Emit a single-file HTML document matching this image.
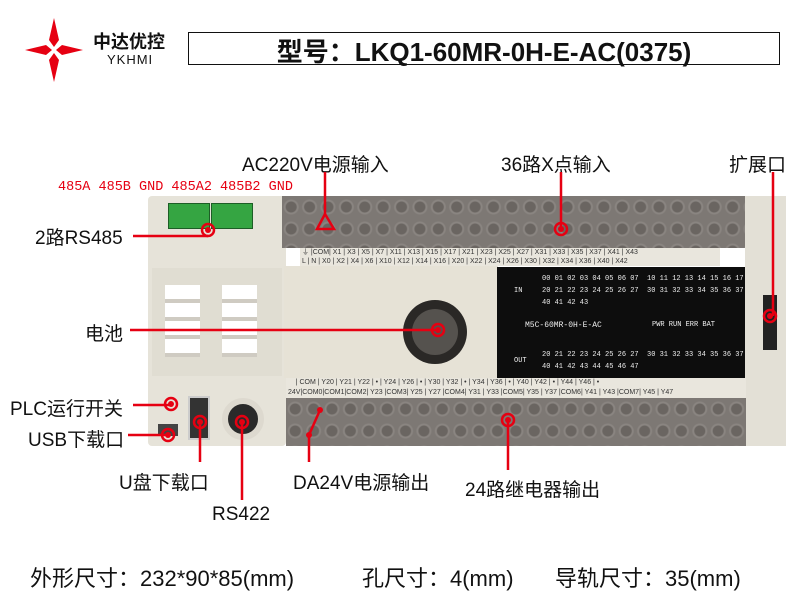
<!DOCTYPE html><html><head><meta charset="utf-8"><style>
body{margin:0;width:800px;height:600px;background:#fff;position:relative;overflow:hidden;font-family:"Liberation Sans","Noto Sans CJK SC",sans-serif}
.a{position:absolute}
.t{position:absolute;font-size:19px;color:#111;white-space:nowrap}
.term{background-color:#7d7874;background-image:radial-gradient(circle at 50% 50%,#6a6561 0 5px,#8a8581 6px 7px,transparent 8px);background-size:18.4px 22px}
.strip{background:#e9e6dd;font-size:7px;color:#333;white-space:nowrap;overflow:hidden;font-family:"Liberation Sans",sans-serif}
.disp{background:#0d0d0d;color:#eee;font-size:7px;font-family:"Liberation Mono",monospace}
.b{position:absolute;top:561px;font-size:22px;color:#111;white-space:nowrap}
</style></head><body>
<svg class="a" style="left:22px;top:18px" width="64" height="64" viewBox="0 0 64 64"><g fill="#e60012"><polygon points="32,0 37,22 32,29 27,22"/><polygon points="32,64 37,42 32,35 27,42"/><polygon points="3,32 24,27 30,32 24,37"/><polygon points="61,32 40,27 34,32 40,37"/></g></svg>
<div class="t" style="left:93px;top:28px;font-size:18px;font-weight:bold">中达优控</div>
<div class="t" style="left:107px;top:52px;font-size:13px;letter-spacing:1px">YKHMI</div>
<div class="a" style="left:188px;top:32px;width:590px;height:31px;border:1.5px solid #111"></div>
<div class="t" style="left:188px;top:32px;width:592px;text-align:center;font-size:26px;font-weight:bold">型号：LKQ1-60MR-0H-E-AC(0375)</div>

<div class="a" style="left:148px;top:196px;width:138px;height:250px;background:#e6e3d9;border-radius:4px"></div>
<div class="a" style="left:168px;top:203px;width:40px;height:24px;background:#35a542;border:1px solid #1d5e26"></div>
<div class="a" style="left:211px;top:203px;width:40px;height:24px;background:#35a542;border:1px solid #1d5e26"></div>
<div class="a" style="left:152px;top:268px;width:130px;height:108px;background:#e0ddd2"></div>
<div class="a" style="left:165px;top:285px;width:35px;height:72px;background:repeating-linear-gradient(#fff 0 14px,#cfcbc2 14px 18px)"></div>
<div class="a" style="left:222px;top:285px;width:35px;height:72px;background:repeating-linear-gradient(#fff 0 14px,#cfcbc2 14px 18px)"></div>
<div class="a" style="left:188px;top:396px;width:18px;height:40px;background:#333;border:2px solid #ccc"></div>
<div class="a" style="left:222px;top:398px;width:30px;height:30px;border-radius:50%;background:#2a2a2a;border:6px solid #ddd9cf"></div>
<div class="a" style="left:158px;top:424px;width:20px;height:12px;background:#444"></div>
<div class="a term" style="left:282px;top:196px;width:465px;height:52px"></div>
<div class="a" style="left:745px;top:196px;width:41px;height:250px;background:#e3e0d6"></div>
<div class="a strip" style="left:300px;top:248px;width:420px;height:18px;line-height:9px">&nbsp;⏚ |COM| X1 | X3 | X5 | X7 | X11 | X13 | X15 | X17 | X21 | X23 | X25 | X27 | X31 | X33 | X35 | X37 | X41 | X43<br>&nbsp;L | N | X0 | X2 | X4 | X6 | X10 | X12 | X14 | X16 | X20 | X22 | X24 | X26 | X30 | X32 | X34 | X36 | X40 | X42</div>
<div class="a" style="left:284px;top:266px;width:214px;height:112px;background:#e6e2d6"></div>
<div class="a" style="left:403px;top:300px;width:64px;height:64px;border-radius:50%;background:#2a2826"></div>
<div class="a" style="left:412px;top:309px;width:46px;height:46px;border-radius:50%;background:#55524e"></div>
<div class="a disp" style="left:497px;top:267px;width:248px;height:111px">
<div class="a" style="left:45px;top:8px">00 01 02 03 04 05 06 07</div><div class="a" style="left:150px;top:8px">10 11 12 13 14 15 16 17</div>
<div class="a" style="left:17px;top:20px">IN</div>
<div class="a" style="left:45px;top:20px">20 21 22 23 24 25 26 27</div><div class="a" style="left:150px;top:20px">30 31 32 33 34 35 36 37</div>
<div class="a" style="left:45px;top:32px">40 41 42 43</div>
<div class="a" style="left:28px;top:54px;font-size:8px">M5C-60MR-0H-E-AC</div><div class="a" style="left:155px;top:54px">PWR  RUN  ERR  BAT</div>
<div class="a" style="left:45px;top:84px">20 21 22 23 24 25 26 27</div><div class="a" style="left:150px;top:84px">30 31 32 33 34 35 36 37</div>
<div class="a" style="left:17px;top:90px">OUT</div>
<div class="a" style="left:45px;top:96px">40 41 42 43 44 45 46 47</div></div>
<div class="a" style="left:763px;top:295px;width:14px;height:55px;background:#222"></div>
<div class="a strip" style="left:286px;top:378px;width:460px;height:20px;line-height:10px">&nbsp;&nbsp;&nbsp;&nbsp;&nbsp;| COM | Y20 | Y21 | Y22 | • | Y24 | Y26 | • | Y30 | Y32 | • | Y34 | Y36 | • | Y40 | Y42 | • | Y44 | Y46 | •<br>&nbsp;24V|COM0|COM1|COM2| Y23 |COM3| Y25 | Y27 |COM4| Y31 | Y33 |COM5| Y35 | Y37 |COM6| Y41 | Y43 |COM7| Y45 | Y47</div>
<div class="a term" style="left:286px;top:398px;width:460px;height:48px"></div>

<div class="a" style="left:58px;top:180px;font-size:13.5px;color:#e60012;font-family:'Liberation Mono',monospace;white-space:nowrap">485A 485B GND 485A2 485B2 GND</div>
<div class="t" style="left:242px;top:150px">AC220V电源输入</div>
<div class="t" style="left:501px;top:150px">36路X点输入</div>
<div class="t" style="left:729px;top:150px">扩展口</div>
<div class="t" style="left:35px;top:223px">2路RS485</div>
<div class="t" style="left:85px;top:319px">电池</div>
<div class="t" style="left:10px;top:394px">PLC运行开关</div>
<div class="t" style="left:28px;top:425px">USB下载口</div>
<div class="t" style="left:119px;top:468px">U盘下载口</div>
<div class="t" style="left:212px;top:504px">RS422</div>
<div class="t" style="left:293px;top:468px">DA24V电源输出</div>
<div class="t" style="left:465px;top:475px">24路继电器输出</div>
<div class="b" style="left:30px">外形尺寸：232*90*85(mm)</div>
<div class="b" style="left:362px">孔尺寸：4(mm)</div>
<div class="b" style="left:555px">导轨尺寸：35(mm)</div>

<svg class="a" style="left:0;top:0" width="800" height="600"><g stroke="#e60012" stroke-width="2.5" fill="none">
<line x1="133" y1="236" x2="208" y2="236"/><circle cx="208" cy="230" r="6"/>
<line x1="325" y1="172" x2="325" y2="215"/><polygon points="325,214 317,229 334,229"/>
<line x1="561" y1="172" x2="561" y2="229"/><circle cx="561" cy="229" r="6"/>
<line x1="773" y1="172" x2="773" y2="316"/><circle cx="770" cy="316" r="6"/>
<line x1="130" y1="330" x2="438" y2="330"/><circle cx="438" cy="330" r="6"/>
<line x1="133" y1="405" x2="170" y2="405"/><circle cx="171" cy="404" r="6"/>
<line x1="128" y1="435" x2="168" y2="435"/><circle cx="168" cy="435" r="6"/>
<line x1="200" y1="425" x2="200" y2="462"/><circle cx="200" cy="422" r="6"/>
<line x1="242" y1="422" x2="242" y2="500"/><circle cx="242" cy="422" r="6"/>
<line x1="309" y1="462" x2="309" y2="435"/><line x1="309" y1="435" x2="320" y2="410"/>
<line x1="508" y1="422" x2="508" y2="470"/><circle cx="508" cy="420" r="6"/>
</g><g fill="#e60012"><circle cx="208" cy="230" r="3"/><circle cx="561" cy="229" r="3"/><circle cx="770" cy="316" r="3"/><circle cx="438" cy="330" r="3"/><circle cx="171" cy="404" r="3"/><circle cx="168" cy="435" r="3"/><circle cx="200" cy="422" r="3"/><circle cx="242" cy="422" r="3"/><circle cx="508" cy="420" r="3"/><circle cx="320" cy="410" r="3"/><circle cx="309" cy="435" r="3"/></g></svg>
</body></html>
